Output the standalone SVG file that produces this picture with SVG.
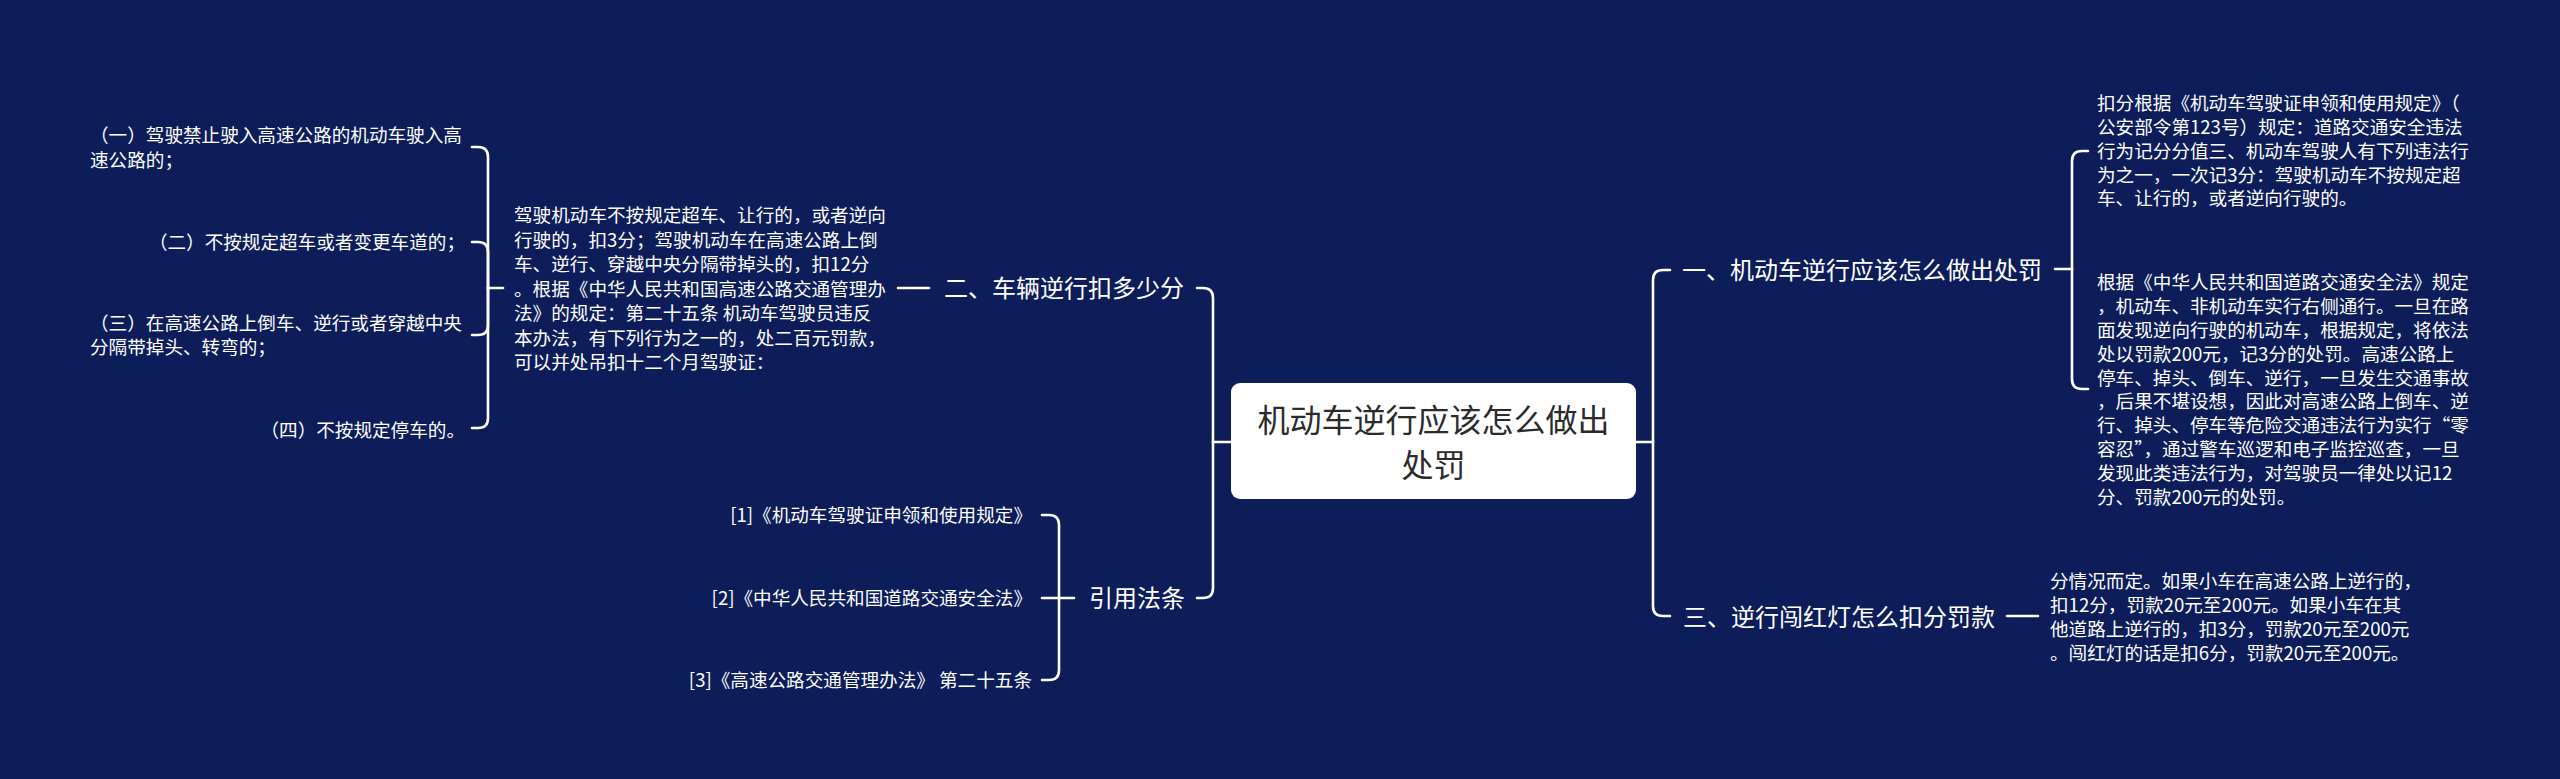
<svg xmlns="http://www.w3.org/2000/svg" width="2560" height="779" viewBox="0 0 2560 779">
<style>
.bg{fill:#0c1d59}
text{font-family:"Noto Sans CJK SC","Noto Sans",sans-serif;fill:#ffffff}
.s{font-size:18.6px}
.m{font-size:24px}
.c{font-size:32px;fill:#2b2b2b}
.ln{fill:none;stroke:#ffffff;stroke-width:2.6;stroke-linecap:round;stroke-linejoin:round}
.box{fill:#ffffff}
</style>
<rect class="bg" x="0" y="0" width="2560" height="779"/>
<g id="connectors">
<path class="ln" d="M503 288H488"/>
<path class="ln" d="M488 288V157Q488 147 478 147H472"/>
<path class="ln" d="M488 288V252Q488 242 478 242H472"/>
<path class="ln" d="M488 288V325Q488 335 478 335H472"/>
<path class="ln" d="M488 288V418Q488 428 478 428H472"/>
<path class="ln" d="M898 288H929"/>
<path class="ln" d="M1231 442H1213"/>
<path class="ln" d="M1213 442V298Q1213 288 1203 288H1197"/>
<path class="ln" d="M1213 442V588Q1213 598 1203 598H1197"/>
<path class="ln" d="M1074 598H1059"/>
<path class="ln" d="M1059 598V525Q1059 515 1049 515H1042"/>
<path class="ln" d="M1059 598H1042"/>
<path class="ln" d="M1059 598V670Q1059 680 1049 680H1042"/>
<path class="ln" d="M1636 442H1653"/>
<path class="ln" d="M1653 442V280Q1653 270 1663 270H1670"/>
<path class="ln" d="M1653 442V606Q1653 616 1663 616H1670"/>
<path class="ln" d="M2055 269H2072"/>
<path class="ln" d="M2072 269V161Q2072 151 2082 151H2088"/>
<path class="ln" d="M2072 269V379Q2072 389 2082 389H2088"/>
<path class="ln" d="M2007 616H2038"/>
</g>
<g id="center">
<rect class="box" x="1231" y="383" width="405" height="116" rx="9"/>
<text class="c" x="1433.5" y="432" text-anchor="middle">机动车逆行应该怎么做出</text>
<text class="c" x="1433.5" y="477" text-anchor="middle">处罚</text>
</g>
<g id="b2">
<text class="m" x="944" y="297">二、车辆逆行扣多少分</text>
</g>
<g id="b2-detail">
<text class="s" x="514" y="222">驾驶机动车不按规定超车、让行的，或者逆向</text>
<text class="s" x="514" y="246.5">行驶的，扣3分；驾驶机动车在高速公路上倒</text>
<text class="s" x="514" y="271">车、逆行、穿越中央分隔带掉头的，扣12分</text>
<text class="s" x="514" y="295.5">。根据《中华人民共和国高速公路交通管理办</text>
<text class="s" x="514" y="320">法》的规定：第二十五条 机动车驾驶员违反</text>
<text class="s" x="514" y="344.5">本办法，有下列行为之一的，处二百元罚款，</text>
<text class="s" x="514" y="369">可以并处吊扣十二个月驾驶证：</text>
</g>
<g id="item1">
<text class="s" x="90" y="142">（一）驾驶禁止驶入高速公路的机动车驶入高</text>
<text class="s" x="90" y="167">速公路的；</text>
</g>
<g id="item2">
<text class="s" x="465" y="249" text-anchor="end">（二）不按规定超车或者变更车道的；</text>
</g>
<g id="item3">
<text class="s" x="90" y="330">（三）在高速公路上倒车、逆行或者穿越中央</text>
<text class="s" x="90" y="354">分隔带掉头、转弯的；</text>
</g>
<g id="item4">
<text class="s" x="465" y="437" text-anchor="end">（四）不按规定停车的。</text>
</g>
<g id="refs">
<text class="m" x="1089" y="607">引用法条</text>
</g>
<g id="ref1">
<text class="s" x="1032" y="522" text-anchor="end">[1]《机动车驾驶证申领和使用规定》</text>
</g>
<g id="ref2">
<text class="s" x="1032" y="605" text-anchor="end">[2]《中华人民共和国道路交通安全法》</text>
</g>
<g id="ref3">
<text class="s" x="1032" y="687" text-anchor="end">[3]《高速公路交通管理办法》 第二十五条</text>
</g>
<g id="b1">
<text class="m" x="1682" y="279">一、机动车逆行应该怎么做出处罚</text>
</g>
<g id="b1-a">
<text class="s" x="2097" y="110">扣分根据《机动车驾驶证申领和使用规定》（</text>
<text class="s" x="2097" y="134">公安部令第123号）规定：道路交通安全违法</text>
<text class="s" x="2097" y="158">行为记分分值三、机动车驾驶人有下列违法行</text>
<text class="s" x="2097" y="181.5">为之一，一次记3分：驾驶机动车不按规定超</text>
<text class="s" x="2097" y="205">车、让行的，或者逆向行驶的。</text>
</g>
<g id="b1-b">
<text class="s" x="2097" y="289">根据《中华人民共和国道路交通安全法》规定</text>
<text class="s" x="2097" y="313">，机动车、非机动车实行右侧通行。一旦在路</text>
<text class="s" x="2097" y="336.5">面发现逆向行驶的机动车，根据规定，将依法</text>
<text class="s" x="2097" y="360.5">处以罚款200元，记3分的处罚。高速公路上</text>
<text class="s" x="2097" y="384.5">停车、掉头、倒车、逆行，一旦发生交通事故</text>
<text class="s" x="2097" y="408">，后果不堪设想，因此对高速公路上倒车、逆</text>
<text class="s" x="2097" y="432">行、掉头、停车等危险交通违法行为实行“零</text>
<text class="s" x="2097" y="456">容忍”，通过警车巡逻和电子监控巡查，一旦</text>
<text class="s" x="2097" y="480">发现此类违法行为，对驾驶员一律处以记12</text>
<text class="s" x="2097" y="503.5">分、罚款200元的处罚。</text>
</g>
<g id="b3">
<text class="m" x="1683" y="626">三、逆行闯红灯怎么扣分罚款</text>
</g>
<g id="b3-a">
<text class="s" x="2050" y="587.5">分情况而定。如果小车在高速公路上逆行的，</text>
<text class="s" x="2050" y="611.5">扣12分，罚款20元至200元。如果小车在其</text>
<text class="s" x="2050" y="635.5">他道路上逆行的，扣3分，罚款20元至200元</text>
<text class="s" x="2050" y="660">。闯红灯的话是扣6分，罚款20元至200元。</text>
</g>
</svg>
